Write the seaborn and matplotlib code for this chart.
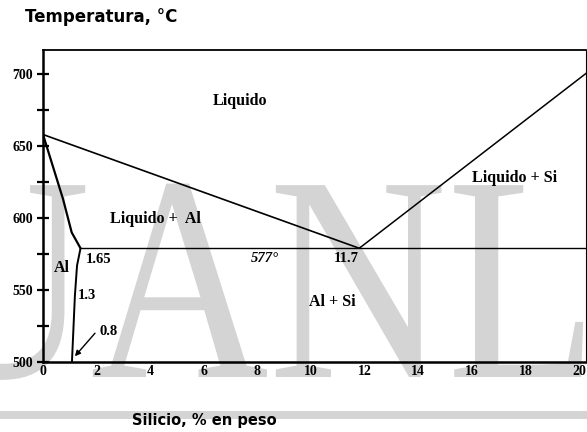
import numpy as np
import pandas as pd
import matplotlib
matplotlib.use("Agg")
import matplotlib.pyplot as plt
import seaborn as sns
from matplotlib.textpath import TextPath
from matplotlib.font_manager import FontProperties
from matplotlib.patches import PathPatch, Rectangle
from matplotlib.transforms import Affine2D

# ---------------- data ----------------
liquidus_al_x = [0.0, 11.8]
liquidus_al_T = [658, 579]
liquidus_si_x = [11.8, 20.3]
liquidus_si_T = [579, 701]
solidus_x = [0.0, 0.75, 1.07, 1.4]
solidus_T = [658, 613, 590, 579]
solvus_x = [1.4, 1.27, 1.19, 1.08]
solvus_T = [579, 567, 546, 500]
eutectic_x = [1.4, 20.3]
eutectic_T = [579, 579]

region_labels = ["Liquido", "Liquido +  Al", "Liquido + Si", "Al", "Al + Si"]
region_x = [7.35, 4.2, 17.6, 0.7, 10.8]
region_T = [681, 599, 628, 565, 542]

value_labels = ["1.65", "1.3", "0.8", "11.7"]
value_x = [2.09, 1.64, 2.43, 11.3]
value_T = [571.5, 546, 521, 572]

eutectic_label = "577°"
xticks = list(range(0, 21, 2))
yticks_major = [500, 550, 600, 650, 700]
yticks_minor = [525, 575, 625, 675]

# ---------------- style ----------------
sns.set_style("white")
plt.rcParams["font.family"] = ["Liberation Serif", "DejaVu Sans"]
plt.rcParams["text.color"] = "black"
plt.rcParams["xtick.color"] = "black"
plt.rcParams["ytick.color"] = "black"

W, H = 587, 432
fig = plt.figure(figsize=(W / 100, H / 100), dpi=100)
fig.patch.set_facecolor("white")

# watermark
wm = TextPath((0, 0), "UANL", size=1, prop=FontProperties(family="Liberation Serif"))
wm_tr = Affine2D().scale(247, 293).translate(-88, H - 377)
fig.add_artist(PathPatch(wm, transform=wm_tr, facecolor="#d4d4d4", edgecolor="none", zorder=-2))
fig.add_artist(Rectangle((0, 1 - 419 / H), 1, 8 / H, transform=fig.transFigure,
                         facecolor="#d4d4d4", edgecolor="none", zorder=-2))

ax = fig.add_axes([43 / W, 1 - 362 / H, (586 - 43) / W, 312 / H])
ax.set_facecolor("none")

lw_specs = [
    (liquidus_al_x, liquidus_al_T, 1.2),
    (liquidus_si_x, liquidus_si_T, 1.1),
    (solidus_x, solidus_T, 1.6),
    (solvus_x, solvus_T, 1.4),
    (eutectic_x, eutectic_T, 1.0),
]
for xs, ts, lw in lw_specs:
    sns.lineplot(x=xs, y=ts, sort=False, estimator=None, color="black", lw=lw, ax=ax)

ax.set_xlim(0, 20.26)
ax.set_ylim(500, 716.7)

bold_serif = dict(family="Liberation Serif", weight="bold", color="black")
for lab, x, t in zip(region_labels, region_x, region_T):
    ax.text(x, t, lab, ha="center", va="center", fontsize=11.5, **bold_serif)
for lab, x, t in zip(value_labels, value_x, value_T):
    ax.text(x, t, lab, ha="center", va="center", fontsize=10.5, **bold_serif)
ax.text(8.28, 572, eutectic_label, ha="center", va="center", fontsize=10.5,
        style="italic", **bold_serif)

ax.annotate("", xy=(1.19, 504), xytext=(1.94, 520),
            arrowprops=dict(arrowstyle="-|>", color="black", lw=1.0, mutation_scale=8,
                            shrinkA=0, shrinkB=0))

ax.set_xticks(xticks)
ax.set_xticklabels([str(v) for v in xticks], fontsize=10, **bold_serif)
ax.set_yticks(yticks_major)
ax.set_yticks(yticks_minor, minor=True)
ax.set_yticklabels([str(v) for v in yticks_major], fontsize=10, **bold_serif)
ax.tick_params(axis="x", bottom=False, length=0, pad=2.5)
ax.tick_params(axis="y", which="both", left=True, direction="inout", length=8.6,
               width=1.6, color="black", pad=3)
ax.set_xlabel("")
ax.set_ylabel("")

for side, lw in [("left", 1.8), ("bottom", 1.8), ("top", 1.3), ("right", 0.8)]:
    ax.spines[side].set_visible(True)
    ax.spines[side].set_color("black")
    ax.spines[side].set_linewidth(lw)

fig.text(25 / W, 1 - 17 / H, "Temperatura, °C", ha="left", va="center",
         family="DejaVu Sans", weight="bold", fontsize=12, color="black")
fig.text(132 / W, 1 - 420 / H, "Silicio, % en peso", ha="left", va="center",
         family="DejaVu Sans", weight="bold", fontsize=10.5, color="black")

fig.savefig("out.png", dpi=100)
